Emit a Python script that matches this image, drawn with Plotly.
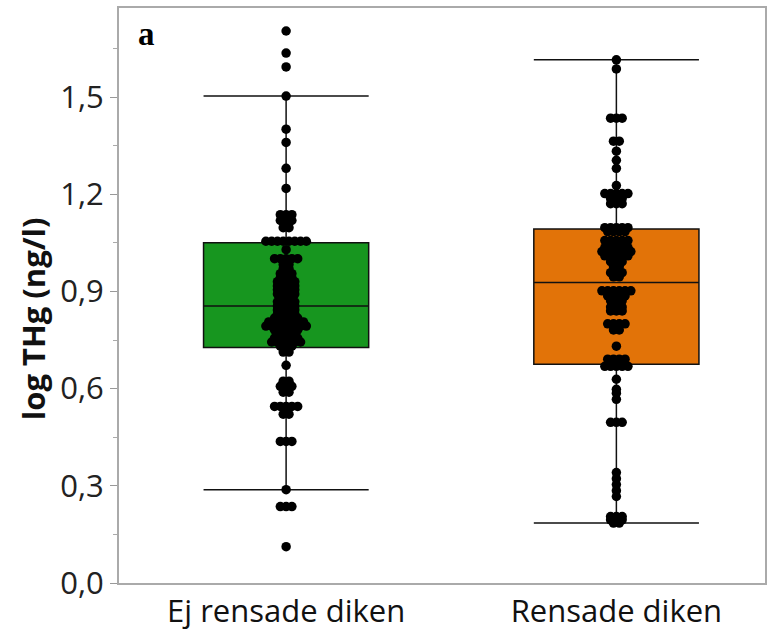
import plotly.graph_objects as go

# Groups (drawn at x = 0 and x = 1)
categories = ["Ej rensade diken", "Rensade diken"]
box_colors = ["#17961f", "#e27308"]

# Box statistics per group
q1 = [0.727, 0.675]
median = [0.855, 0.928]
q3 = [1.050, 1.093]
lower_fence = [0.288, 0.185]
upper_fence = [1.503, 1.615]

# Individual observations: distinct values and how many samples share each value
ej_values = [1.704, 1.636, 1.593, 1.503, 1.401, 1.360, 1.280, 1.218, 1.137, 1.119,
             1.097, 1.055, 1.029, 1.001, 0.983, 0.970, 0.955, 0.942, 0.930, 0.917,
             0.905, 0.892, 0.880, 0.868, 0.855, 0.843, 0.830, 0.818, 0.806, 0.793,
             0.781, 0.769, 0.756, 0.744, 0.731, 0.713, 0.672, 0.623, 0.607, 0.589,
             0.545, 0.521, 0.437, 0.288, 0.236, 0.112]
ej_counts = [1, 1, 1, 1, 1, 1, 1, 1, 3, 3,
             2, 8, 1, 5, 2, 2, 3, 3, 4, 4,
             4, 4, 3, 4, 4, 4, 4, 5, 7, 8,
             5, 4, 5, 6, 3, 2, 1, 2, 3, 2,
             5, 2, 3, 1, 3, 1]

rens_values = [1.615, 1.587, 1.435, 1.364, 1.333, 1.305, 1.280, 1.227, 1.202, 1.187,
               1.171, 1.097, 1.085, 1.057, 1.035, 1.023, 1.010, 0.992, 0.976, 0.958,
               0.945, 0.902, 0.886, 0.871, 0.852, 0.840, 0.800, 0.781, 0.731, 0.691,
               0.669, 0.629, 0.598, 0.586, 0.567, 0.496, 0.341, 0.322, 0.304, 0.285,
               0.267, 0.205, 0.195, 0.185]
rens_counts = [1, 1, 3, 2, 1, 1, 1, 1, 5, 3,
               3, 5, 4, 5, 5, 6, 5, 3, 2, 3,
               2, 6, 4, 3, 3, 3, 4, 2, 1, 4,
               5, 1, 1, 1, 1, 3, 1, 1, 1, 1,
               1, 3, 3, 2]

groups = [(ej_values, ej_counts), (rens_values, rens_counts)]

DOT_STEP = 0.0175  # horizontal spacing between dots sharing a value (x units)
BOX_WIDTH = 0.5

fig = go.Figure()

for i, name in enumerate(categories):
    fig.add_trace(go.Box(
        x=[i], q1=[q1[i]], median=[median[i]], q3=[q3[i]],
        lowerfence=[lower_fence[i]], upperfence=[upper_fence[i]],
        width=BOX_WIDTH, whiskerwidth=1,
        fillcolor=box_colors[i], line=dict(color="#111111", width=1.5),
        boxpoints=False, name=name, showlegend=False, hoverinfo="skip",
    ))

# Stacked dots: values shared by several samples are spread sideways
for i, (vals, counts) in enumerate(groups):
    xs, ys = [], []
    for v, n in zip(vals, counts):
        for k in range(n):
            xs.append(i + (k - (n - 1) / 2) * DOT_STEP)
            ys.append(v)
    fig.add_trace(go.Scatter(
        x=xs, y=ys, mode="markers",
        marker=dict(color="black", size=9.5, line=dict(width=0)),
        showlegend=False, hoverinfo="y",
    ))

# Panel letter
fig.add_annotation(
    text="<b>a</b>", xref="paper", yref="paper", x=0.027, y=0.99,
    xanchor="left", yanchor="top", showarrow=False,
    font=dict(family="Liberation Serif", size=33, color="black"),
)

# Y-axis title
fig.add_annotation(
    text="<b>log THg (ng/l)</b>", xref="paper", yref="paper", x=-0.133, y=0.459,
    xanchor="center", yanchor="middle", textangle=-90, showarrow=False,
    font=dict(family="Open Sans", size=31, color="#111111"),
)

fig.update_layout(
    width=768, height=633,
    margin=dict(l=119, r=3, t=8, b=50),
    plot_bgcolor="white", paper_bgcolor="white",
    separators=", ",
    font=dict(family="Open Sans", color="#222222"),
    boxmode="overlay",
)

fig.update_xaxes(
    range=[-0.506, 1.45], automargin=False,
    tickvals=[0, 1], ticktext=categories,
    tickfont=dict(size=31, color="#111111"), ticklabelstandoff=0,
    ticks="", showgrid=False, zeroline=False,
    showline=True, linecolor="#aaaaaa", linewidth=2, mirror=True,
)

fig.update_yaxes(
    range=[0, 1.775], dtick=0.3, tick0=0, tickformat=".1f", automargin=False,
    tickfont=dict(size=31, color="#222222"),
    ticks="outside", ticklen=7, tickcolor="#999999", tickwidth=1,
    minor=dict(dtick=0.15, ticks="outside", ticklen=4, tickcolor="#aaaaaa"),
    showgrid=False, zeroline=False,
    showline=True, linecolor="#aaaaaa", linewidth=2, mirror=True,
)

fig.write_html("out.html")
